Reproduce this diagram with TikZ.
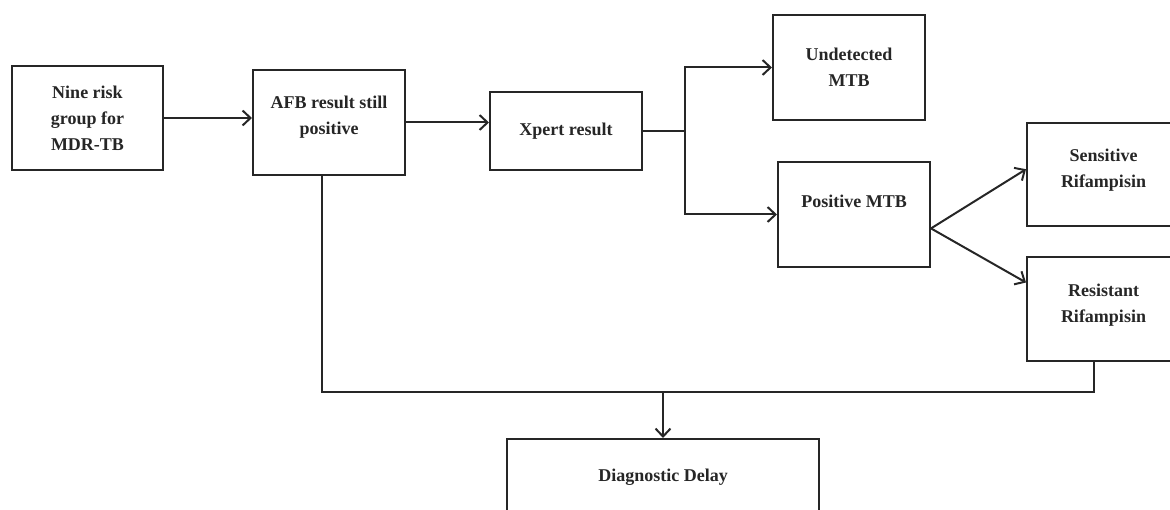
\documentclass[tikz,border=0pt]{standalone}
\usepackage{fontspec}
\setmainfont{Liberation Serif}
\usetikzlibrary{arrows.meta,calc}
\begin{document}
\begin{tikzpicture}[x=1pt,y=-1pt,
  box/.style={draw=black!85,line width=2pt,rectangle,align=center,inner sep=2pt,
    font=\fontsize{18}{26}\selectfont\bfseries,text=black!85},
  conn/.style={draw=black!85,line width=2pt},
  arr/.style={conn,-{Straight Barb[length=8pt,width=15pt,line width=2pt]}}]
\useasboundingbox (0,0) rectangle (1170,510);
\node[box,minimum width=151pt,minimum height=104pt] (b1) at (87.5,118) {Nine risk\\group for\\MDR-TB};
\node[box,minimum width=152pt,minimum height=105pt,text depth=14pt] (b2) at (329,122.5) {AFB result still\\positive};
\node[box,minimum width=152pt,minimum height=78pt] (xp) at (566,131) {Xpert result};
\node[box,minimum width=152pt,minimum height=105pt] (un) at (849,67.5) {Undetected\\MTB};
\node[box,minimum width=152pt,minimum height=105pt,text depth=26pt] (pos) at (854,214.5) {Positive MTB};
\node[box,minimum width=153pt,minimum height=103pt,text depth=12pt] (sens) at (1103.5,174.5) {Sensitive\\Rifampisin};
\node[box,minimum width=153pt,minimum height=104pt,text depth=12pt] (res) at (1103.5,309) {Resistant\\Rifampisin};
\node[box,minimum width=312pt,minimum height=76pt] (diag) at (663,477) {Diagnostic Delay};
\coordinate (split) at (685,131);
\coordinate (bus) at (663,392);
\coordinate (b2s) at ($(b2.south west)!0.455!(b2.south east)$);
\coordinate (rs) at ($(res.south west)!0.44!(res.south east)$);
\coordinate (pe) at ($(pos.north east)!0.63!(pos.south east)$);
\coordinate (sw) at ($(sens.north west)!0.45!(sens.south west)$);
\coordinate (rw) at ($(res.north west)!0.25!(res.south west)$);
\draw[arr] (b1.east) -- (b1.east -| b2.west);
\draw[arr] (b2.east) -- (b2.east -| xp.west);
\draw[conn] (xp.east) -- (split);
\draw[arr] (split) |- (un.west);
\draw[arr] (split) |- (pos.west);
\draw[arr] (pe) -- (sw);
\draw[arr] (pe) -- (rw);
\draw[conn] (b2s) -- (b2s |- bus) -- (rs |- bus) -- (rs);
\draw[arr] (bus) -- (diag.north);
\end{tikzpicture}
\end{document}
